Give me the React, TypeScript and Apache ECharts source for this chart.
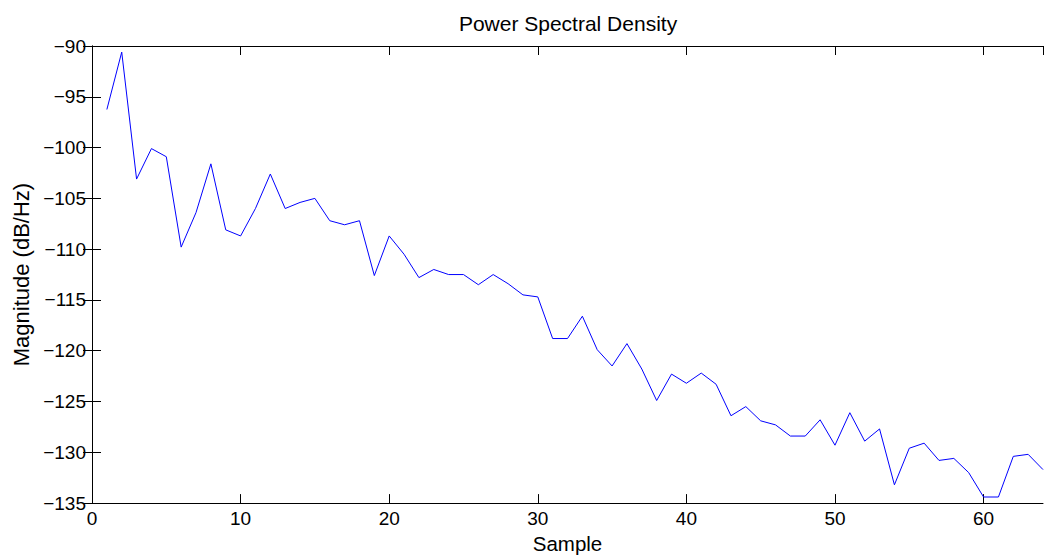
import React, { useEffect, useRef } from "react";
import * as echarts from "echarts";

const titleText = "Power Spectral Density";
const xName = "Sample";
const yName = "Magnitude (dB/Hz)";

const samples = [
  1, 2, 3, 4, 5, 6, 7, 8, 9, 10, 11, 12, 13, 14, 15, 16,
  17, 18, 19, 20, 21, 22, 23, 24, 25, 26, 27, 28, 29, 30, 31, 32,
  33, 34, 35, 36, 37, 38, 39, 40, 41, 42, 43, 44, 45, 46, 47, 48,
  49, 50, 51, 52, 53, 54, 55, 56, 57, 58, 59, 60, 61, 62, 63, 64,
];

const magnitude = [
  -96.25, -90.6, -103.1, -100.1, -100.9, -109.8, -106.4, -101.6,
  -108.1, -108.7, -106.0, -102.6, -106.0, -105.4, -105.0, -107.2,
  -107.6, -107.2, -112.6, -108.7, -110.5, -112.8, -112.0, -112.5,
  -112.5, -113.5, -112.5, -113.4, -114.5, -114.7, -118.8, -118.8,
  -116.6, -119.9, -121.5, -119.3, -121.8, -124.9, -122.3, -123.2,
  -122.2, -123.3, -126.4, -125.5, -126.9, -127.3, -128.4, -128.4,
  -126.8, -129.3, -126.1, -128.9, -127.7, -133.2, -129.6, -129.1,
  -130.8, -130.6, -132.0, -134.4, -134.4, -130.4, -130.2, -131.7,
];

const xMin = 0;
const xMax = 64;
const xStep = 10;
const yMin = -135;
const yMax = -90;
const yStep = 5;

const FONT = "'Liberation Sans', Arial, Helvetica, sans-serif";

function fmtY(v: number) {
  return v < 0 ? "\u2212" + Math.abs(v) : String(v);
}

export default function App() {
  const ref = useRef<HTMLDivElement>(null);

  useEffect(() => {
    if (!ref.current) return;
    const chart = echarts.init(ref.current, undefined, { renderer: "svg" });
    const axisLine = { show: true, lineStyle: { color: "#000", width: 1 } };
    const tick = { show: true, inside: true, length: 9, lineStyle: { color: "#000", width: 1 } };
    const option: any = {
      animation: false,
      backgroundColor: "#fff",
      textStyle: { fontFamily: FONT },
      title: {
        text: titleText,
        left: 563,
        textAlign: "center",
        top: 8,
        textStyle: { fontFamily: FONT, fontSize: 21, fontWeight: "normal", color: "#000" },
      },
      grid: { left: 92, right: 3, top: 46, bottom: 52, containLabel: false },
      xAxis: [
        {
          type: "value",
          min: xMin,
          max: xMax,
          interval: xStep,
          position: "bottom",
          name: xName,
          nameLocation: "middle",
          nameGap: 18,
          nameTextStyle: { fontFamily: FONT, fontSize: 20.5, color: "#000" },
          axisLine,
          axisTick: tick,
          splitLine: { show: false },
          axisLabel: {
            fontFamily: FONT,
            fontSize: 19,
            color: "#000",
            margin: 6,
            showMaxLabel: false,
            formatter: (v: number) => (v % xStep === 0 ? String(v) : ""),
          },
        },
        {
          type: "value",
          min: xMin,
          max: xMax,
          interval: xStep,
          position: "top",
          axisLine,
          axisTick: tick,
          splitLine: { show: false },
          axisLabel: { show: false },
        },
      ],
      yAxis: [
        {
          type: "value",
          min: yMin,
          max: yMax,
          interval: yStep,
          position: "left",
          name: yName,
          nameLocation: "middle",
          nameGap: 56,
          nameTextStyle: { fontFamily: FONT, fontSize: 22, color: "#000" },
          axisLine,
          axisTick: tick,
          splitLine: { show: false },
          axisLabel: { fontFamily: FONT, fontSize: 19, color: "#000", margin: 6, formatter: fmtY },
        },
        {
          type: "value",
          min: yMin,
          max: yMax,
          interval: yStep,
          position: "right",
          axisLine,
          axisTick: tick,
          splitLine: { show: false },
          axisLabel: { show: false },
        },
      ],
      series: [
        {
          type: "line",
          xAxisIndex: 0,
          yAxisIndex: 0,
          data: samples.map((s, i) => [s, magnitude[i]]),
          showSymbol: false,
          symbol: "none",
          lineStyle: { color: "#0000ff", width: 1 },
          itemStyle: { color: "#0000ff" },
        },
      ],
    };
    chart.setOption(option);
    return () => chart.dispose();
  }, []);

  return (
    <div
      ref={ref}
      style={{ position: "absolute", left: 0, top: 0, width: 1046, height: 559, background: "#fff" }}
    />
  );
}
